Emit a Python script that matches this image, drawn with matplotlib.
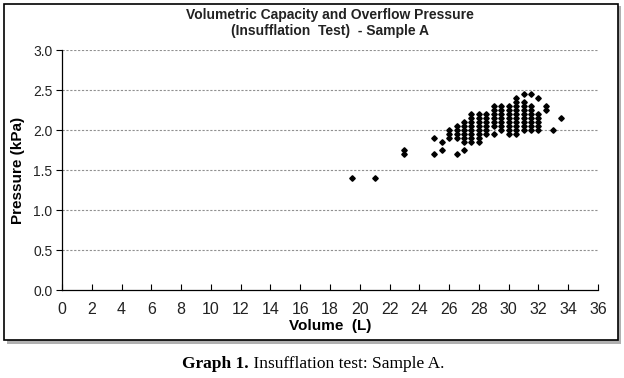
import matplotlib
matplotlib.use("Agg")
import matplotlib.pyplot as plt
from matplotlib.patches import Rectangle

# measured points: volume (L) -> list of pressures (kPa)
vol_cols = [19.5, 21.0, 23.0, 25.0, 25.5, 26.0, 26.5, 27.0, 27.5, 28.0, 28.5,
            29.0, 29.5, 30.0, 30.5, 31.0, 31.5, 32.0, 32.5, 33.0, 33.5]
press_cols = [
    [1.40],
    [1.40],
    [1.70, 1.75],
    [1.70, 1.90],
    [1.75, 1.85],
    [1.90, 1.95, 2.00],
    [1.70, 1.90, 1.95, 2.00, 2.05],
    [1.75, 1.85, 1.90, 1.95, 2.00, 2.05, 2.10],
    [1.85, 1.90, 1.95, 2.00, 2.05, 2.10, 2.15, 2.20],
    [1.85, 1.90, 1.95, 2.00, 2.05, 2.10, 2.15, 2.20],
    [1.95, 2.00, 2.05, 2.10, 2.15, 2.20],
    [1.95, 2.05, 2.10, 2.15, 2.20, 2.25, 2.30],
    [2.00, 2.05, 2.10, 2.15, 2.20, 2.25, 2.30],
    [1.95, 2.00, 2.05, 2.10, 2.15, 2.20, 2.25, 2.30],
    [1.95, 2.00, 2.05, 2.10, 2.15, 2.20, 2.25, 2.30, 2.35, 2.40],
    [2.00, 2.05, 2.10, 2.15, 2.20, 2.25, 2.30, 2.35, 2.45],
    [2.00, 2.05, 2.10, 2.15, 2.20, 2.25, 2.30, 2.45],
    [2.00, 2.05, 2.10, 2.15, 2.20, 2.40],
    [2.25, 2.30],
    [2.00],
    [2.15],
]
x_ticks = list(range(0, 37, 2))
y_ticks = [0.0, 0.5, 1.0, 1.5, 2.0, 2.5, 3.0]

volume = []
pressure = []
for v, ps in zip(vol_cols, press_cols):
    for p in ps:
        volume.append(v)
        pressure.append(p)

sans = ['Liberation Sans', 'DejaVu Sans']
serif = ['Liberation Serif', 'DejaVu Serif']

fig = plt.figure(figsize=(6.24, 3.78), dpi=100)

# frame with drop shadow
fig.patches.append(Rectangle((7/624, 1 - 344/378), 614/624, 338/378,
                             transform=fig.transFigure, facecolor='#b0b0b0',
                             edgecolor='none', zorder=0))
fig.patches.append(Rectangle((4/624, 1 - 340/378), 614/624, 336/378,
                             transform=fig.transFigure, facecolor='white',
                             edgecolor='black', lw=1.2, zorder=1))

ax = fig.add_axes([62/624, 1 - 290/378, 536/624, 240/378])
ax.set_zorder(2)
ax.patch.set_alpha(0)

ax.plot(volume, pressure, linestyle='none', marker='D', ms=2.8,
        color='black', clip_on=False)

ax.set_xlim(0, 36)
ax.set_ylim(0, 3.0)
ax.set_xticks(x_ticks)
ax.set_yticks(y_ticks)
ax.set_yticklabels([f"{t:.1f}" for t in y_ticks], family=sans, fontsize=10, color='#222222')
ax.set_xticklabels([str(t) for t in x_ticks], family=sans, fontsize=11.5, color='#222222')
ax.tick_params(axis='x', direction='in', length=4, width=0.8, pad=9)
ax.tick_params(axis='y', direction='out', length=4, width=0.8, pad=3)

for t in y_ticks[1:]:
    ax.axhline(t, color='#909090', lw=0.8, ls=(0, (2, 1.5)), zorder=0)

ax.spines['top'].set_visible(False)
ax.spines['right'].set_visible(False)
ax.spines['left'].set_linewidth(0.9)
ax.spines['bottom'].set_linewidth(0.9)

ax.set_xlabel("Volume  (L)", family=sans, fontsize=11, weight='bold', labelpad=1)
ax.set_ylabel("Pressure (kPa)", family=sans, fontsize=11, weight='bold', labelpad=6)

fig.text(330/624, 1 - 8/378, "Volumetric Capacity and Overflow Pressure\n(Insufflation  Test)  - Sample A",
         ha='center', va='top', family=sans, fontsize=10, weight='bold',
         linespacing=1.15, color='#222222', zorder=3)

t1 = fig.text(182/624, 1 - 368/378, "Graph 1.", family=serif, fontsize=12.5,
              weight='bold', va='baseline')
ax.annotate(" Insufflation test: Sample A.", xy=(1, 0), xycoords=t1,
            va='bottom', ha='left', family=serif, fontsize=12.5,
            annotation_clip=False)

fig.savefig("out.png", dpi=100)
